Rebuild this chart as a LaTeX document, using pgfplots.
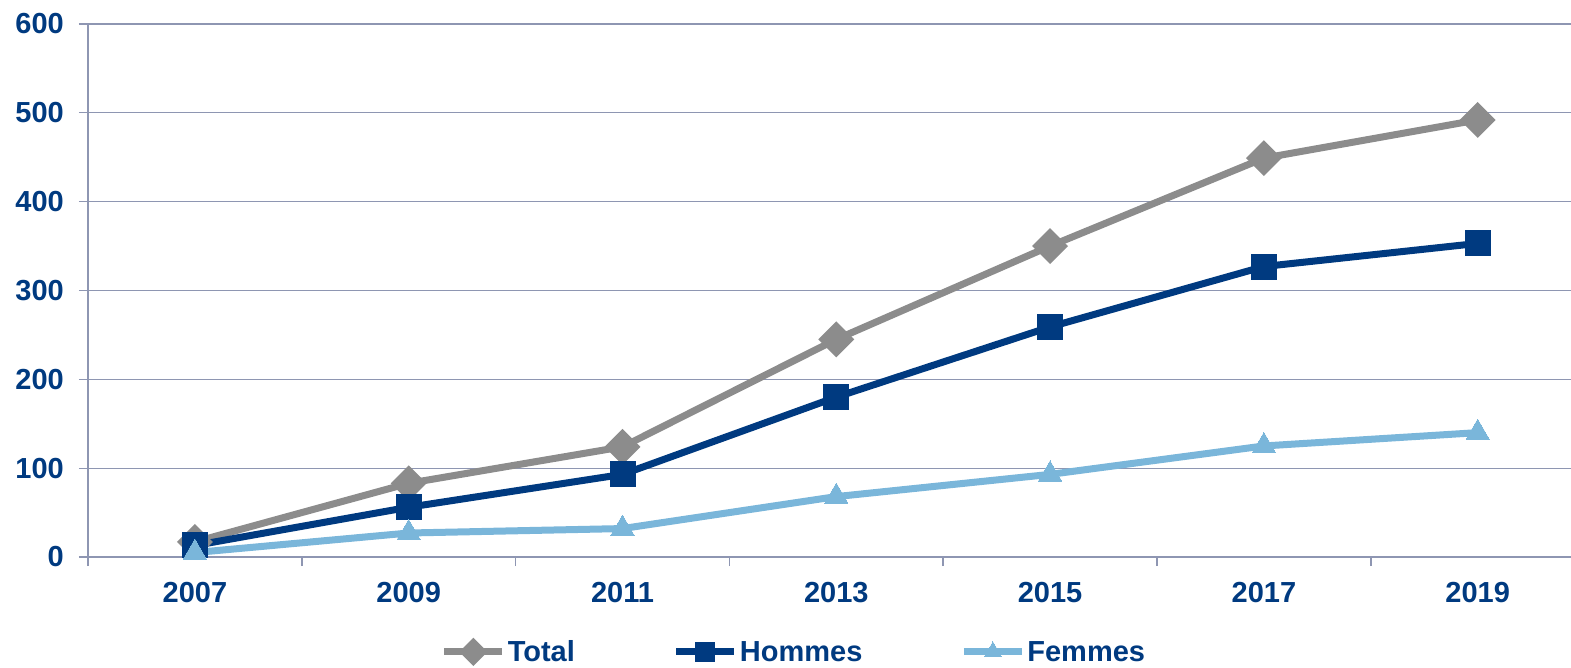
\documentclass[border=0pt]{standalone}
\usepackage{fontspec}
\setmainfont{Liberation Sans}
\usepackage{pgfplots}
\pgfplotsset{compat=1.18}
\definecolor{navy}{HTML}{003A80}
\definecolor{grayline}{HTML}{8C8C8C}
\definecolor{lightblue}{HTML}{7AB6DA}
\definecolor{gridc}{HTML}{8E96B2}
\begin{document}
\begin{tikzpicture}
\useasboundingbox (0,0) rectangle (1571bp,668bp);
\begin{axis}[
  at={(88bp,111bp)}, anchor=south west,
  scale only axis, width=1496.6bp, height=533bp,
  xmin=-0.5, xmax=6.5, ymin=0, ymax=600,
  xtick={0,...,6},
  xticklabels={2007,2009,2011,2013,2015,2017,2019},
  minor xtick={-0.5,0.5,...,6.5},
  ytick={0,100,...,600},
  axis x line*=bottom, axis y line*=left,
  axis line style={-, draw=gridc, line width=1.5bp},
  ymajorgrids, grid style={draw=gridc, line width=1.3bp},
  tick align=outside,
  major tick length=9bp, minor tick length=9bp,
  major x tick style={draw=none},
  minor x tick style={draw=gridc, line width=1.5bp},
  major y tick style={draw=gridc, line width=1.3bp},
  /pgf/number format/assume math mode=true,
  ticklabel style={font=\bfseries\fontsize{29bp}{33bp}\selectfont, text=navy, inner sep=0pt},
  yticklabel style={anchor=east, xshift=-15bp},
  xticklabel style={anchor=north, yshift=-16bp},
  legend columns=3,
  legend style={at={(0.4717,-0.178)}, anchor=center, draw=none, fill=none,
    font=\bfseries\fontsize{29bp}{33bp}\selectfont, text=navy,
    nodes={inner sep=2bp},
    /tikz/every even column/.append style={column sep=96bp}},
  legend image code/.code={\draw[mark repeat=2,mark phase=2,#1] plot coordinates {(0bp,0bp) (29bp,0bp) (58bp,0bp)};},
]
\addplot[color=grayline, line width=7bp, mark=square*, mark size=9.2bp, mark options={rotate=45, fill=grayline, draw=grayline},
  legend image post style={mark size=6.5bp}]
  coordinates {(0,17) (1,83) (2,124) (3,245) (4,350) (5,449) (6,492)};
\addlegendentry{Total}
\addplot[color=navy, line width=7bp, mark=square*, mark size=12.5bp, mark options={fill=navy, draw=navy, line width=0pt},
  legend image post style={mark size=9.5bp}]
  coordinates {(0,13) (1,56) (2,93) (3,180) (4,259) (5,327) (6,353)};
\addlegendentry{Hommes}
\addplot[color=lightblue, line width=7bp, mark=triangle*, mark size=13.5bp, mark options={fill=lightblue, draw=lightblue, line width=0pt},
  legend image post style={mark size=10bp}]
  coordinates {(0,5) (1,27) (2,32) (3,68) (4,93) (5,125) (6,140)};
\addlegendentry{Femmes}
\end{axis}
\end{tikzpicture}
\end{document}
